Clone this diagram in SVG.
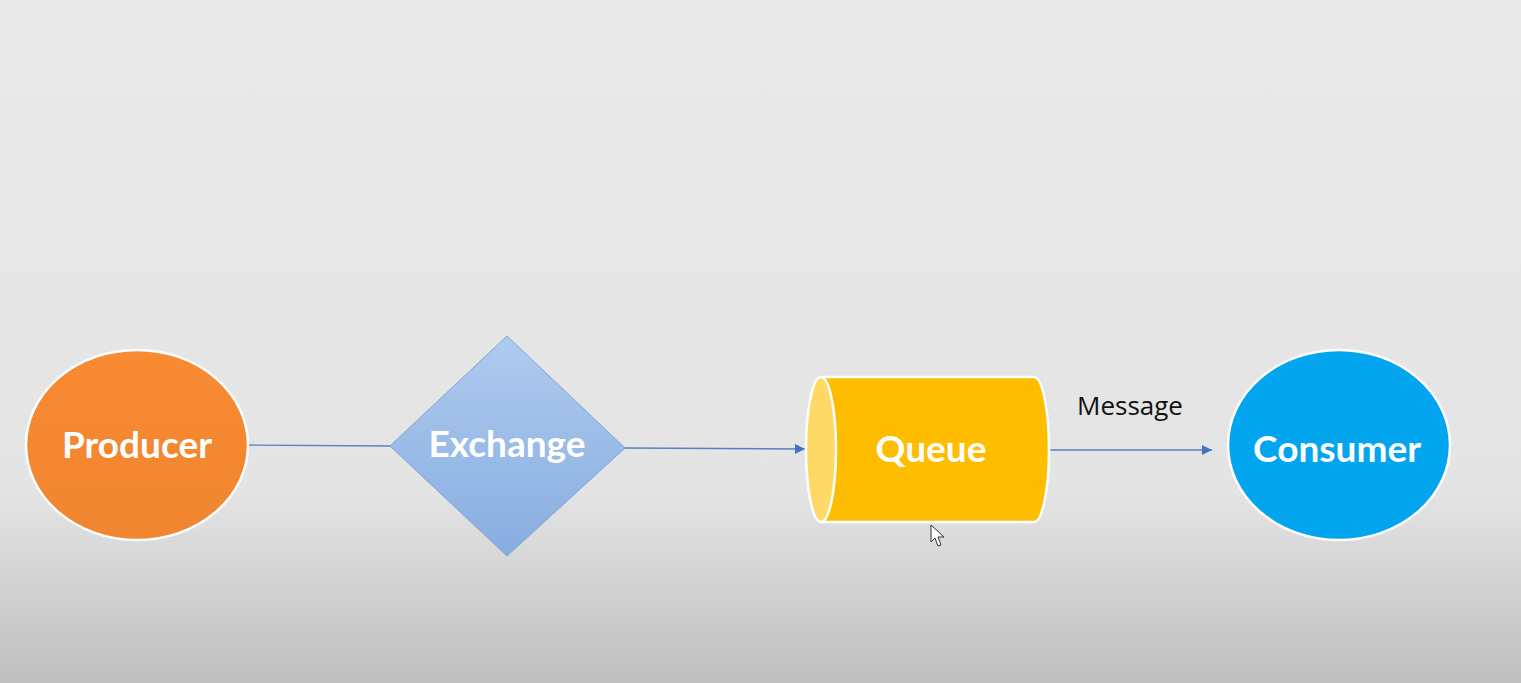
<svg xmlns="http://www.w3.org/2000/svg" width="1521" height="683" viewBox="0 0 1521 683">
<defs>
<linearGradient id="bg" x1="0" y1="0" x2="0" y2="1">
<stop offset="0" stop-color="#e9e9e9"/>
<stop offset="0.72" stop-color="#e4e4e4"/>
<stop offset="1" stop-color="#bfbfbf"/>
</linearGradient>
<linearGradient id="dia" x1="0" y1="0" x2="0" y2="1">
<stop offset="0" stop-color="#afcbef"/>
<stop offset="1" stop-color="#87ade0"/>
</linearGradient>
<linearGradient id="org" x1="0" y1="0" x2="0" y2="1">
<stop offset="0" stop-color="#f88a32"/>
<stop offset="1" stop-color="#f08630"/>
</linearGradient>
<marker id="arr" viewBox="0 0 10 10" refX="10" refY="5" markerWidth="10" markerHeight="10" markerUnits="userSpaceOnUse" orient="auto">
<path d="M0,0 L10,5 L0,10 z" fill="#4472c4"/>
</marker>
<style>
.lbl{font-family:Lato,"Open Sans","Liberation Sans",sans-serif;font-weight:bold;font-size:37px;fill:#ffffff;text-anchor:middle}
.conn{stroke:#5b7fc4;stroke-width:1.3;fill:none}
.msg{font-family:"Open Sans","Liberation Sans",sans-serif;font-size:26px;fill:#111111}
</style>
</defs>
<rect width="1521" height="683" fill="url(#bg)"/>
<g id="connectors">
<line class="conn" x1="249" y1="445" x2="390" y2="446"/>
<line class="conn" x1="625" y1="448" x2="805" y2="449" marker-end="url(#arr)"/>
<line class="conn" x1="1050" y1="450" x2="1212" y2="450" marker-end="url(#arr)"/>
<text class="msg" x="1077" y="415">Message</text>
</g>
<g id="producer">
<ellipse cx="137" cy="445" rx="111" ry="95" fill="url(#org)" stroke="#ffffff" stroke-width="2.5"/>
<text class="lbl" x="137" y="458">Producer</text>
</g>
<g id="exchange">
<polygon points="507,336 625,448 507,556 390,446" fill="url(#dia)" stroke="#7ea3d6" stroke-width="1"/>
<text class="lbl" x="507" y="457">Exchange</text>
</g>
<g id="queue">
<path d="M821,377 L1034,377 A15,72.5 0 0 1 1034,522 L821,522 Z" fill="#ffbd00" stroke="#ffffff" stroke-width="2.5"/>
<ellipse cx="821" cy="449.5" rx="15" ry="72.5" fill="#ffd966" stroke="#ffffff" stroke-width="2.5"/>
<text class="lbl" x="931" y="462">Queue</text>
</g>
<g id="consumer">
<ellipse cx="1339" cy="445" rx="111" ry="95" fill="#02a5ee" stroke="#ffffff" stroke-width="2.5"/>
<text class="lbl" x="1337" y="462">Consumer</text>
</g>
<g id="cursor">
<path d="M931,525 L931,542 L935,538 L938,546 L941,545 L938,537 L944,537 Z" fill="#ffffff" stroke="#333333" stroke-width="1"/>
</g>
</svg>
